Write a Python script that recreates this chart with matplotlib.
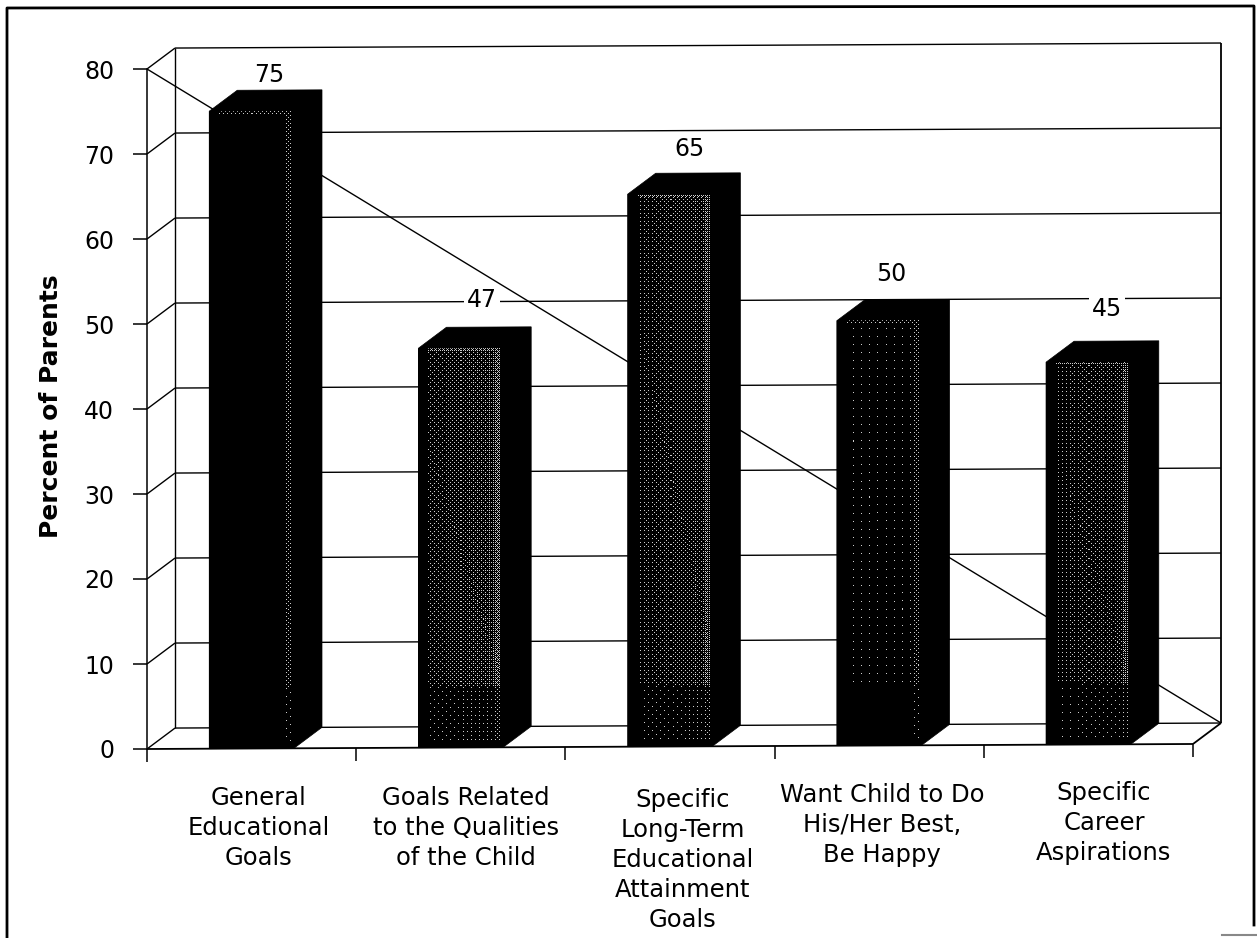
import numpy as np
import matplotlib
matplotlib.use('Agg')
import matplotlib.pyplot as plt
from matplotlib.patches import Polygon
from matplotlib.transforms import Affine2D

# Data
categories = ["General\nEducational\nGoals",
              "Goals Related\nto the Qualities\nof the Child",
              "Specific\nLong-Term\nEducational\nAttainment\nGoals",
              "Want Child to Do\nHis/Her Best,\nBe Happy",
              "Specific\nCareer\nAspirations"]
values = [75, 47, 65, 50, 45]
yticks = [0, 10, 20, 30, 40, 50, 60, 70, 80]

# Bar look
bar_shade = [0.004, 0.13, 0.11, 0.012, 0.09]  # density of the grey specks on the front face
bar_width = 0.405
depth_x = 0.134
depth_y = 2.45
tilt = 0.118  # the scan is slightly rotated

W, H = 1257, 938

fig = plt.figure(figsize=(W / 100, H / 100), dpi=100)
fig.patch.set_facecolor('w')
ax = fig.add_axes([147 / W, 1 - 749 / H, (1193 - 147) / W, (749 - 69) / H])
ax.set_xlim(0, 5)
ax.set_ylim(0, 80)
ax.patch.set_visible(False)

# skewed data transform so the whole plot tilts like the scan
tr = Affine2D.from_values(1, tilt, 0, 1, 0, 0) + ax.transData

for s in ['top', 'right', 'bottom']:
    ax.spines[s].set_visible(False)
ax.spines['left'].set_linewidth(1.1)
ax.set_xticks([])
ax.set_yticks(yticks)
ax.tick_params(axis='y', length=10, width=1.1, pad=13.5, labelsize=17)
fig.text(51 / W, 1 - 406 / H, "Percent of Parents", fontsize=18, fontweight='bold',
         rotation=90, ha='center', va='center')


def line(xs, ys, lw=1.0, z=1):
    ax.plot(xs, ys, color='k', lw=lw, transform=tr, clip_on=False, zorder=z, solid_capstyle='butt')


# walls and floor
for v in yticks:
    line([0, depth_x], [v, v + depth_y])
    line([depth_x, 5 + depth_x], [v + depth_y, v + depth_y])
line([depth_x, depth_x], [depth_y, 80 + depth_y])
line([5 + depth_x, 5 + depth_x], [depth_y, 80 + depth_y], lw=1.3)
line([0, 5], [0, 0], lw=1.3)
line([5, 5 + depth_x], [0, depth_y], lw=1.3)
for i in range(6):
    line([i, i], [0, -1.5], lw=1.1)

# diagonal line running across the plot, behind the bars
line([0, 5 + depth_x], [80, depth_y], lw=1.0, z=1.5)

# ordered dither, gives the speckled look of the scan without any noise
bayer = np.array([[0]])
for _ in range(3):
    bayer = np.block([[4 * bayer, 4 * bayer + 2], [4 * bayer + 3, 4 * bayer + 1]])
bayer = (bayer + 0.5) / bayer.size

# bars
for i, v in enumerate(values):
    x0 = i + 0.5 - bar_width / 2
    x1 = x0 + bar_width
    outline = [(x0, 0), (x1, 0), (x1 + depth_x, depth_y), (x1 + depth_x, v + depth_y),
               (x0 + depth_x, v + depth_y), (x0, v)]
    ax.add_patch(Polygon(outline, closed=True, fc='k', ec='k', lw=0.5, transform=tr, zorder=3, clip_on=False))
    # front face is one image pixel per screen pixel, black with dithered specks
    nx = int(bar_width * 209)
    ny = int(v * 8.5)
    u = (np.arange(nx) + 0.5) / nx
    h = (np.arange(ny) + 0.5) / 8.5  # value height of each row
    density = np.outer(np.ones(ny), bar_shade[i] * (0.5 + 1.0 * u))
    density[:, u > 0.90] = 0.10 + bar_shade[i] * 2
    density[h > v - 0.4, :] = 0.10 + bar_shade[i] * 2
    density[h < 7.2, :] *= 0.3
    density[(h > 7.15) & (h < 7.35), :] = 0.05 + bar_shade[i]
    density[:, u < 0.12] = 0
    density[:, u > 0.97] = 0
    density[h < 0.8, :] = 0
    tile = np.tile(bayer, (ny // 8 + 1, nx // 8 + 1))[:ny, :nx]
    img = (density > tile) * 0.8
    ax.imshow(img, cmap='gray', vmin=0, vmax=1, extent=[x0, x1, 0, v], origin='lower', aspect='auto',
              transform=tr, zorder=4, clip_on=False, interpolation='nearest')
ax.set_xlim(0, 5)
ax.set_ylim(0, 80)

# value labels, placed from the bar's top centre
label_dx = [18, 21, 19, 12, 19]
label_dy = [15, 27, 24, 26, 32]
box = dict(boxstyle='square,pad=0.12', fc='w', ec='none')
for i, v in enumerate(values):
    ax.annotate(str(v), xy=(i + 0.5, v + depth_y), xycoords=tr,
                xytext=(label_dx[i] * 0.72, label_dy[i] * 0.72), textcoords='offset points',
                ha='center', va='center', fontsize=17, bbox=box, zorder=2, annotation_clip=False)

# category labels
label_x = [259, 466, 683, 882, 1104]
label_y = [786, 786, 788, 783, 781]
for i, c in enumerate(categories):
    fig.text(label_x[i] / W, 1 - label_y[i] / H, c, ha='center', va='top', fontsize=17.5, linespacing=1.31)

# page frame from the scan
frame = fig.add_axes([0, 0, 1, 1], zorder=-1)
frame.set_xlim(0, W)
frame.set_ylim(H, 0)
frame.axis('off')
frame.plot([7, 7, 1254, 1254], [938, 8, 6, 925], color='k', lw=2)
frame.plot([1222, 1257], [935, 935], color='#888888', lw=1.5)

fig.savefig('out.png', dpi=100)
